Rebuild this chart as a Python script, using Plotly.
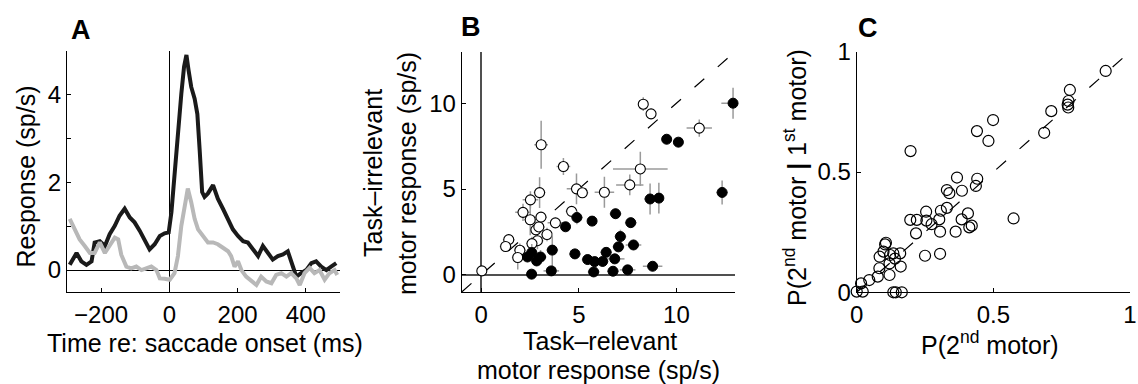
import plotly.graph_objects as go

# ---------------- Panel A data (time course) ----------------
t_black = [-292, -280, -272, -258, -243, -228, -219, -204, -189, -175,
           -160, -146, -131, -116, -102, -87, -72, -58, -43, -28,
           -14, -2, 6, 15, 25, 35, 43, 50, 56, 64,
           74, 82, 89, 96, 103, 113, 128, 142, 157, 172,
           186, 201, 216, 230, 245, 260, 274, 289, 303, 318,
           333, 347, 359, 372, 386, 401, 416, 430, 445, 460,
           474, 489]
resp_black = [0.12, 0.30, 0.39, 0.20, 0.12, 0.20, 0.63, 0.66, 0.55, 0.82,
              1.01, 1.24, 1.40, 1.20, 1.09, 0.90, 0.66, 0.47, 0.59, 0.78,
              0.84, 0.86, 1.32, 2.25, 3.02, 4.02, 4.64, 4.91, 4.57, 4.18,
              3.91, 3.56, 2.71, 1.78, 1.67, 1.75, 1.94, 1.63, 1.40, 1.17,
              0.93, 0.78, 0.66, 0.63, 0.47, 0.32, 0.55, 0.39, 0.24, 0.32,
              0.36, 0.43, 0.16, -0.15, -0.07, 0.0, 0.16, 0.20, 0.08, 0.0,
              0.08, 0.16]

t_gray = [-292, -277, -263, -248, -233, -219, -204, -189, -175, -160,
          -150, -141, -126, -112, -97, -82, -68, -53, -38, -28,
          -14, 1, 15, 25, 35, 45, 54, 64, 74, 84,
          98, 113, 128, 142, 157, 172, 181, 191, 201, 211,
          225, 240, 255, 269, 284, 299, 313, 328, 343, 357,
          372, 382, 396, 411, 425, 440, 455, 469, 484, 492]
resp_gray = [1.17, 0.93, 0.70, 0.55, 0.39, 0.39, 0.63, 0.39, 0.55, 0.74,
             0.70, 0.35, 0.08, 0.04, 0.08, 0.0, 0.04, 0.08, 0.0, -0.19,
             -0.20, -0.22, -0.07, 0.32, 1.01, 1.48, 1.86, 1.55, 1.17, 0.93,
             0.78, 0.63, 0.63, 0.59, 0.51, 0.43, 0.32, 0.08, 0.20, 0.0,
             -0.15, -0.26, -0.34, -0.15, -0.26, -0.30, -0.11, -0.07, -0.15, -0.07,
             -0.19, -0.34, -0.07, 0.05, -0.07, 0.0, -0.22, -0.07, 0.0, -0.11]

# ---------------- Panel B data ----------------
filled_x = [12.9, 9.5, 10.1, 12.34, 8.65, 9.1, 6.88, 7.66, 5.68, 4.9,
            4.32, 7.13, 7.8, 7.03, 3.64, 2.59, 3.04, 2.37, 2.84, 4.8,
            5.45, 5.81, 6.22, 6.4, 6.84, 8.78, 7.5, 6.75, 5.76, 3.59, 2.58]
filled_y = [10.0, 7.9, 7.73, 4.8, 4.42, 4.47, 3.56, 3.04, 3.13, 3.34,
            2.8, 2.23, 1.74, 1.63, 1.44, 1.3, 1.04, 1.04, 0.81, 1.22,
            0.89, 0.77, 0.78, 1.31, 0.93, 0.5, 0.29, 0.21, 0.17, 0.23, 0.04]
filled_ex = [0.6, 0.2, 0.2, 0.3, 0.3, 0.25, 0.3, 0.3, 0.2, 0.3,
             0.2, 0.3, 0.4, 0.3, 0.3, 0.3, 0.3, 0.2, 0.3, 0.3,
             0.3, 0.3, 0.3, 0.3, 0.5, 0.5, 0.4, 0.3, 0.3, 0.4, 0.2]
filled_ey = [0.9, 0.2, 0.2, 0.7, 0.9, 0.9, 0.3, 0.3, 0.2, 0.4,
             0.2, 0.4, 0.3, 0.3, 1.0, 0.5, 0.4, 0.3, 0.3, 0.3,
             0.3, 0.3, 0.3, 0.3, 0.3, 0.2, 0.2, 0.2, 0.2, 0.2, 0.2]

open_x = [8.3, 8.7, 11.17, 3.07, 4.21, 8.15, 7.61, 6.31, 4.88, 5.18,
          2.99, 2.52, 2.14, 4.63, 2.51, 3.06, 3.80, 2.80, 2.95, 3.37,
          2.88, 2.60, 1.41, 1.25, 1.98, 1.87, 0.03]
open_y = [9.94, 9.38, 8.55, 7.58, 6.31, 6.17, 5.24, 4.81, 5.01, 4.78,
          4.79, 4.37, 3.64, 3.70, 3.21, 3.36, 3.03, 2.62, 2.79, 2.35,
          1.99, 1.82, 2.05, 1.65, 1.43, 1.01, 0.23]
open_ex = [0.2, 0.2, 0.65, 0.35, 0.35, 1.4, 0.7, 0.5, 0.5, 0.3,
           0.3, 0.4, 0.4, 0.3, 0.3, 0.3, 0.4, 0.3, 0.3, 0.3,
           0.3, 0.3, 0.3, 0.3, 0.3, 0.3, 0.1]
open_ey = [0.4, 0.3, 0.5, 1.4, 0.5, 1.0, 0.6, 0.9, 0.9, 0.3,
           0.9, 0.5, 0.5, 0.3, 0.9, 0.3, 0.3, 0.5, 0.4, 0.4,
           0.5, 0.4, 0.3, 0.3, 0.4, 0.7, 0.1]

unity_B = [-1, 13]

# ---------------- Panel C data ----------------
p2 = [0.911, 0.780, 0.775, 0.772, 0.774, 0.712, 0.686, 0.499, 0.440, 0.482,
      0.197, 0.574, 0.441, 0.436, 0.367, 0.385, 0.330, 0.339, 0.330, 0.308,
      0.254, 0.255, 0.302, 0.305, 0.362, 0.384, 0.407, 0.421, 0.412, 0.274,
      0.196, 0.220, 0.217, 0.250, 0.305, 0.107, 0.104, 0.084, 0.098, 0.122,
      0.134, 0.159, 0.140, 0.120, 0.161, 0.083, 0.120, 0.077, 0.046, 0.016,
      0.000, 0.022, 0.134, 0.143, 0.165]
p2_given1 = [0.920, 0.841, 0.795, 0.780, 0.768, 0.753, 0.663, 0.716, 0.670, 0.629,
             0.587, 0.307, 0.472, 0.442, 0.477, 0.422, 0.425, 0.412, 0.351, 0.339,
             0.335, 0.298, 0.303, 0.252, 0.252, 0.303, 0.328, 0.277, 0.270, 0.283,
             0.301, 0.301, 0.245, 0.152, 0.160, 0.206, 0.199, 0.148, 0.169, 0.155,
             0.162, 0.162, 0.140, 0.120, 0.107, 0.100, 0.072, 0.065, 0.051, 0.037,
             0.003, 0.003, 0.000, 0.000, 0.000]
unity_C = [0, 1]

# tick labels
ticks_A_x = [-200, 0, 200, 400]
ticks_A_y = [0, 2, 4]
minor_A_y = [1, 3, 5]
ticks_B = [0, 5, 10]
ticks_C = [0, 0.5, 1]

W, H = 1138, 384
FONT = "Liberation Sans, Arial, Helvetica, sans-serif"
TICK_FONT = dict(family=FONT, size=24, color="black")
TITLE_SIZE = 25
ERR_COLOR = "#9a9a9a"

fig = go.Figure()

# Panel A
fig.add_trace(go.Scatter(x=t_black, y=resp_black, mode="lines",
                         line=dict(color="#1a1a1a", width=4), xaxis="x", yaxis="y",
                         showlegend=False))
fig.add_trace(go.Scatter(x=t_gray, y=resp_gray, mode="lines",
                         line=dict(color="#b8b8b8", width=4), xaxis="x", yaxis="y",
                         showlegend=False))

# Panel B
fig.add_trace(go.Scatter(x=unity_B, y=unity_B, mode="lines",
                         line=dict(color="black", width=1.2, dash="13px,18px"),
                         xaxis="x2", yaxis="y2", showlegend=False))
fig.add_trace(go.Scatter(x=open_x, y=open_y, mode="markers",
                         marker=dict(symbol="circle", size=10, color="white",
                                     line=dict(color="black", width=1.1)),
                         error_x=dict(type="data", array=open_ex, color=ERR_COLOR, thickness=1.5, width=0),
                         error_y=dict(type="data", array=open_ey, color=ERR_COLOR, thickness=1.5, width=0),
                         xaxis="x2", yaxis="y2", showlegend=False, cliponaxis=False))
fig.add_trace(go.Scatter(x=filled_x, y=filled_y, mode="markers",
                         marker=dict(symbol="circle", size=10, color="black",
                                     line=dict(color="black", width=1)),
                         error_x=dict(type="data", array=filled_ex, color=ERR_COLOR, thickness=1.5, width=0),
                         error_y=dict(type="data", array=filled_ey, color=ERR_COLOR, thickness=1.5, width=0),
                         xaxis="x2", yaxis="y2", showlegend=False, cliponaxis=False))

# Panel C
fig.add_trace(go.Scatter(x=unity_C, y=unity_C, mode="lines",
                         line=dict(color="black", width=1.2, dash="13px,18px"),
                         xaxis="x3", yaxis="y3", showlegend=False, cliponaxis=False))
fig.add_trace(go.Scatter(x=p2, y=p2_given1, mode="markers",
                         marker=dict(symbol="circle-open", size=11, color="black",
                                     line=dict(color="black", width=1.2)),
                         xaxis="x3", yaxis="y3", showlegend=False, cliponaxis=False))


def px(x):
    return x / W


def py(y):
    return 1 - y / H


common = dict(showgrid=False, showline=True, linecolor="black", linewidth=1,
              ticks="inside", ticklen=4, tickcolor="black", tickwidth=1,
              tickfont=TICK_FONT, automargin=False, mirror=False)

fig.update_layout(
    width=W, height=H,
    margin=dict(l=0, r=0, t=0, b=0),
    paper_bgcolor="white", plot_bgcolor="white",
    font=dict(family=FONT, color="black"),
    showlegend=False,
    xaxis=dict(domain=[px(67), px(340)], range=[-300, 500], anchor="y",
               tickvals=ticks_A_x, ticktext=["\u2212200", "0", "200", "400"],
               ticklabelstandoff=1,
               zeroline=True, zerolinecolor="black", zerolinewidth=1, **common),
    yaxis=dict(domain=[py(292), py(51)], range=[-0.5, 5], anchor="x",
               tickvals=ticks_A_y,
               minor=dict(tickvals=minor_A_y, ticks="inside", ticklen=4,
                          tickcolor="black", tickwidth=1, showgrid=False),
               zeroline=True, zerolinecolor="black", zerolinewidth=1, **common),
    xaxis2=dict(domain=[px(461.7), px(735)], range=[-1, 13], anchor="y2",
                tickvals=ticks_B, ticklabelstandoff=1,
                zeroline=True, zerolinecolor="#505050", zerolinewidth=1.5, **common),
    yaxis2=dict(domain=[py(292), py(51.7)], range=[-1, 13], anchor="x2",
                tickvals=ticks_B,
                zeroline=True, zerolinecolor="#505050", zerolinewidth=1.5, **common),
    xaxis3=dict(domain=[px(856.7), px(1130)], range=[0, 1], anchor="y3",
                tickvals=ticks_C, ticktext=["0", "0.5", "1"], ticklabelstandoff=1,
                zeroline=False, **common),
    yaxis3=dict(domain=[py(292.3), py(51.7)], range=[0, 1], anchor="x3",
                tickvals=ticks_C, ticktext=["0", "0.5", "1"],
                zeroline=False, **common),
)


def label(text, x, y, size=TITLE_SIZE, angle=0, bold=False):
    fig.add_annotation(text=f"<b>{text}</b>" if bold else text,
                       x=px(x), y=py(y), xref="paper", yref="paper",
                       xanchor="center", yanchor="middle", showarrow=False,
                       textangle=angle,
                       font=dict(family=FONT, size=size, color="black"))


# panel letters
label("A", 80.5, 30, size=27, bold=True)
label("B", 471, 27, size=27, bold=True)
label("C", 868, 28, size=27, bold=True)

# axis titles
label("Time re: saccade onset (ms)", 205, 343)
label("Response (sp/s)", 25.5, 177, angle=-90)
label("Task\u2013relevant", 600, 341)
label("motor response (sp/s)", 598, 370)
label("Task\u2013irrelevant", 373, 173, angle=-90)
label("motor response (sp/s)", 407, 173, angle=-90)
label("P(2<sup>nd</sup> motor)", 990, 343)
label("P(2<sup>nd</sup> motor <b>|</b> 1<sup>st</sup> motor)", 795, 178, angle=-90)

fig.write_html("out.html")
